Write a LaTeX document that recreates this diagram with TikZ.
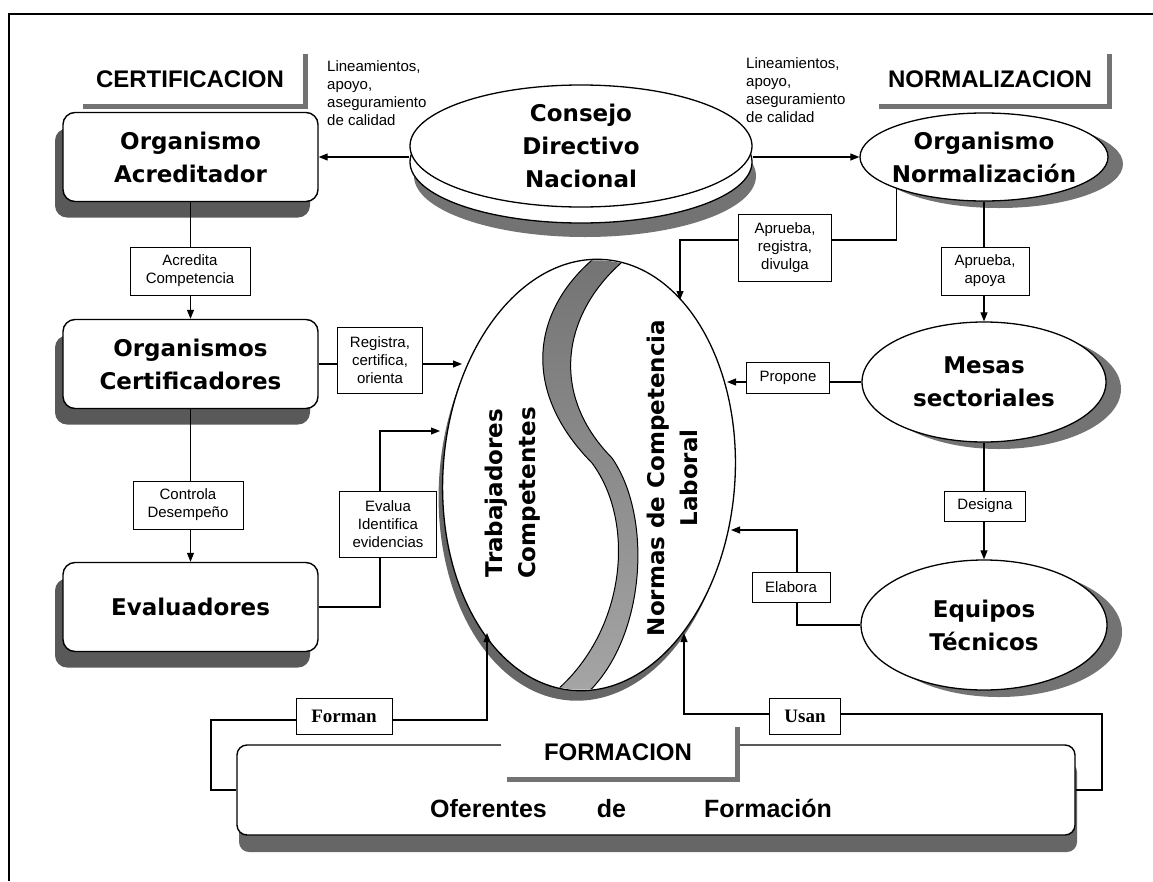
\documentclass[tikz,border=0pt]{standalone}
\usepackage{fontspec}
\setmainfont{Liberation Sans}
\newfontfamily\boldsans{DejaVu Sans}
\newfontfamily\serifbold{Liberation Serif}
\usepackage{tikz}
\usetikzlibrary{shapes.geometric,shadows,arrows.meta}

\newcommand{\orgfont}{\boldsans\bfseries\fontsize{23}{33}\selectfont}
\newcommand{\labfont}{\fontsize{15}{18}\selectfont}
\newcommand{\headfont}{\bfseries\fontsize{24}{28}\selectfont}

\begin{document}
\begin{tikzpicture}[x=1pt,y=-1pt,
  every node/.style={inner sep=0pt},
  orgbox/.style={draw,line width=1.4pt,fill=white,rounded corners=12pt,
    minimum width=255,minimum height=89,align=center,font=\orgfont,
    drop shadow={shadow xshift=-8pt,shadow yshift=-16pt,fill=black!65,opacity=1}},
  oval/.style={draw,ellipse,line width=1.3pt,fill=white,inner sep=-8pt,align=center,font=\orgfont},
  ovalshadow/.style={drop shadow={shadow xshift=15pt,shadow yshift=-7pt,fill=black!55,opacity=1}},
  lab/.style={draw,line width=0.9pt,fill=white,align=center,font=\labfont},
  head/.style={fill=white,minimum height=50,font=\headfont},
  headshadow/.style={line width=5pt,draw=black!55},
  note/.style={anchor=north west,align=left,font=\labfont},
  conn/.style={line width=1.1pt,-{Triangle[length=9pt,width=7pt]}}]

\useasboundingbox (0,0) rectangle (1153,881);

% Frame
\draw[line width=1.5pt] (9,881) -- (9,14) -- (1153,14);

% Headers
\node[head,minimum width=226] (hcert) at (190,79) {CERTIFICACION};
\draw[headshadow] ([xshift=2.5pt]hcert.north east) -- ([xshift=2.5pt,yshift=-2.5pt]hcert.south east) -- ([xshift=6pt,yshift=-2.5pt]hcert.south west);
\node[head,minimum width=234] (hnorm) at (990,79) {NORMALIZACION};
\draw[headshadow] ([xshift=2.5pt]hnorm.north east) -- ([xshift=2.5pt,yshift=-2.5pt]hnorm.south east) -- ([xshift=6pt,yshift=-2.5pt]hnorm.south west);

\node[note] (lin1) at (327,60) {Lineamientos,\\apoyo,\\aseguramiento\\de calidad};
\node[note] (lin2) at (746,57) {Lineamientos,\\apoyo,\\aseguramiento\\de calidad};

% Consejo disk
\fill[black!55] (585,176) ellipse [x radius=171pt,y radius=61pt];
\filldraw[fill=white,line width=1.3pt] (581,162) ellipse [x radius=171pt,y radius=61pt];
\node[oval,minimum width=342,minimum height=122] (cdn) at (581,146) {Consejo\\Directivo\\Nacional};

% Certificacion side
\node[orgbox] (oacr) at (190.5,157) {Organismo\\Acreditador};
\node[orgbox] (ocert) at (190.5,364) {Organismos\\Certificadores};
\node[orgbox] (eval) at (190.5,607) {Evaluadores};

% Normalizacion side
\node[oval,ovalshadow,minimum width=248,minimum height=88] (onor) at (984,157) {Organismo\\Normalización};
\node[oval,ovalshadow,minimum width=244,minimum height=120] (mesas) at (984,382) {Mesas\\sectoriales};
\node[oval,ovalshadow,minimum width=246,minimum height=130] (equip) at (984,625) {Equipos\\Técnicos};

% Central ellipse
\node[draw,ellipse,line width=1.3pt,fill=white,rotate=-4,minimum width=292,minimum height=432,
  drop shadow={shadow xshift=-4pt,shadow yshift=-10pt,fill=black!60,opacity=1}] (nucleo) at (589,475) {};
\begin{scope}
  \clip[rotate around={-4:(589,475)}] (589,475) ellipse [x radius=145pt,y radius=215pt];
  \shade[top color=black!55,middle color=black!6,bottom color=black!35]
    (606,249) .. controls (535,300) and (515,385) .. (592,463)
    .. controls (638,525) and (625,640) .. (546,699)
    -- (578,701) .. controls (645,650) and (655,520) .. (612,458)
    .. controls (545,390) and (565,305) .. (632,254) -- cycle;
  \draw[line width=1pt] (606,249) .. controls (535,300) and (515,385) .. (592,463)
    .. controls (638,525) and (625,640) .. (546,699);
  \draw[line width=1pt] (632,254) .. controls (565,305) and (545,390) .. (612,458)
    .. controls (655,520) and (645,650) .. (578,701);
\end{scope}
\node[rotate=90,align=center,font=\orgfont] (ttrab) at (513,493) {Trabajadores\\Competentes};
\node[rotate=90,align=center,font=\orgfont] (tnorm) at (672,478) {Normas de Competencia\\Laboral};

% Formacion
\node[draw,line width=1.4pt,fill=white,rounded corners=10pt,minimum width=838,minimum height=90,
  text height=54pt,text depth=0pt,font=\bfseries\fontsize{25}{30}\selectfont,
  drop shadow={shadow xshift=2pt,shadow yshift=-17pt,fill=black!60,opacity=1}] (ofer) at (656,790)
  {Oferentes\hspace{50pt}de\hspace{78pt}Formación\hspace*{50pt}};
\node[head,minimum width=234] (hform) at (618,752) {FORMACION};
\draw[headshadow] ([xshift=2.5pt]hform.north east) -- ([xshift=2.5pt,yshift=-2.5pt]hform.south east) -- ([xshift=6pt,yshift=-2.5pt]hform.south west);

% Arrow ends and bends
\coordinate (tReg) at (462,364);
\coordinate (kEva) at (380,431);
\coordinate (tEva) at (440,431);
\coordinate (kApr) at (680,240);
\coordinate (tApr) at (680,300);
\coordinate (tPro) at (727,382);
\coordinate (kEla) at (797,530);
\coordinate (tEla) at (731,530);
\coordinate (kFor) at (211,720);
\coordinate (tFor) at (487,633);
\coordinate (kUsa) at (1102,714);
\coordinate (tUsa) at (684,633);

% Connectors
\draw[conn] (oacr.east -| cdn.west) -- (oacr.east);
\draw[conn] (onor.west -| cdn.east) -- (onor.west);
\draw[conn] (oacr.south) -- (ocert.north);
\draw[conn] (ocert.south) -- (eval.north);
\draw[conn] (ocert.east) -- (tReg);
\draw[conn] (eval.east) -| (kEva) -- (tEva);
\draw[conn] (onor.200) |- (kApr) -- (tApr);
\draw[conn] (onor.south) -- (mesas.north);
\draw[conn] (mesas.west) -- (tPro);
\draw[conn] (mesas.south) -- (equip.north);
\draw[conn] (equip.west) -| (kEla) -- (tEla);
\draw[conn] (ofer.west) -| (kFor) -| (tFor);
\draw[conn] (ofer.east) -| (kUsa) -| (tUsa);

% Connector labels
\node[lab,minimum width=120,minimum height=48] (lAcr) at (190,271) {Acredita\\Competencia};
\node[lab,minimum width=110,minimum height=48] (lCon) at (188,505) {Controla\\Desempeño};
\node[lab,minimum width=85,minimum height=66] (lReg) at (380,360) {Registra,\\certifica,\\orienta};
\node[lab,minimum width=97,minimum height=66] (lEva) at (388,524) {Evalua\\Identifica\\evidencias};
\node[lab,minimum width=93,minimum height=67] (lApr) at (785,248) {Aprueba,\\registra,\\divulga};
\node[lab,minimum width=88,minimum height=48] (lApo) at (985,271) {Aprueba,\\apoya};
\node[lab,minimum width=83,minimum height=31] (lPro) at (788,378) {Propone};
\node[lab,minimum width=81,minimum height=30] (lDes) at (985,506) {Designa};
\node[lab,minimum width=78,minimum height=30] (lEla) at (791,587) {Elabora};
\node[lab,minimum width=96,minimum height=36,font=\serifbold\bfseries\fontsize{19}{22}\selectfont] (lFor) at (344,716) {Forman};
\node[lab,minimum width=71,minimum height=36,font=\serifbold\bfseries\fontsize{19}{22}\selectfont] (lUsa) at (805,716) {Usan};
\end{tikzpicture}
\end{document}
